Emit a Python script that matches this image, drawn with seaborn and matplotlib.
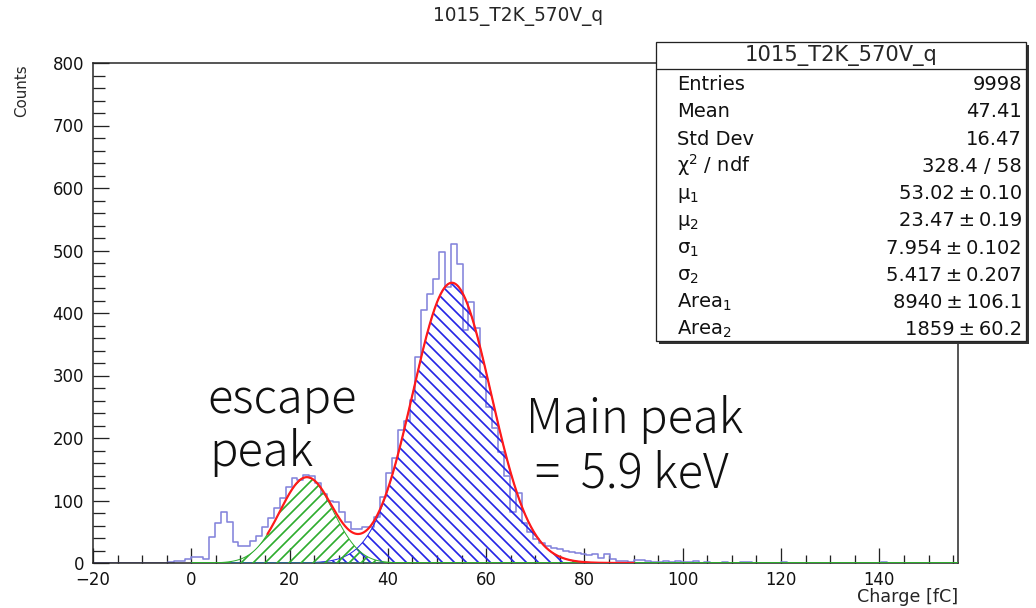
import numpy as np
import pandas as pd
import matplotlib
matplotlib.use("Agg")
import matplotlib.pyplot as plt
from matplotlib.patches import Rectangle
from matplotlib.lines import Line2D
from matplotlib.ticker import MultipleLocator
import seaborn as sns

# ---------------- data ----------------
hist_name = "1015_T2K_570V_q"
bin_start = -20.4
bin_width = 1.2
counts = [
    0, 0, 0, 0, 0, 0, 0, 0, 0, 0, 0, 0, 0,          # -20.4 .. -4.8
    2, 3, 3, 6, 10, 9, 7,                           # -4.8 .. 3.6
    42, 64, 82, 66, 34, 28, 27, 36, 44, 58,         # 3.6 .. 15.6
    72, 88, 104, 122, 136, 133, 141, 140, 128, 110, # 15.6 .. 27.6
    100, 97, 82, 66, 55, 54, 58, 57, 74, 106,       # 27.6 .. 39.6
    144, 168, 213, 228, 261, 330, 405, 430, 455, 497,  # 39.6 .. 51.6
    442, 510, 478, 373, 418, 376, 298, 250, 216, 178,  # 51.6 .. 63.6
    140, 82, 112, 64, 50, 38, 32, 28, 24, 22,       # 63.6 .. 75.6
    20, 18, 16, 14, 13, 15, 8, 14, 6, 3,            # 75.6 .. 87.6
    3, 2, 5, 5, 4, 2, 2, 3, 1, 3,                   # 87.6 .. 99.6
    2, 1, 3, 0, 1, 0, 0, 2, 0, 0,                   # 99.6 .. 111.6
    1, 2, 0, 0, 0, 0, 0, 2, 0, 0,                   # 111.6 .. 123.6
    0, 0, 0, 0, 0, 0, 0, 0, 0, 0,                   # 123.6 .. 135.6
    0, 0, 0, 0, 2, 0, 0, 0, 0, 0,                   # 135.6 .. 147.6
    0, 0, 0, 0, 0, 0, 0,                            # 147.6 .. 156.0
]

# statistics and double-gaussian fit results
entries = 9998
mean = 47.41
std_dev = 16.47
chi2 = 328.4
ndf = 58
mu = [53.02, 23.47]
mu_err = [0.10, 0.19]
sigma = [7.954, 5.417]
sigma_err = [0.102, 0.207]
area = [8940, 1859]
area_err = [106.1, 60.2]
fit_range = (15.5, 90.0)
component_range = (0.0, 156.0)

x_ticks = [-20, 0, 20, 40, 60, 80, 100, 120, 140]
y_ticks = [0, 100, 200, 300, 400, 500, 600, 700, 800]

# ---------------- figure ----------------
sns.set_style("ticks")
plt.rcParams["font.family"] = ["DejaVu Sans"]
plt.rcParams["hatch.linewidth"] = 1.7

DPI = 72
W, H = 1036, 608
fig = plt.figure(figsize=(W / DPI, H / DPI), dpi=DPI)
fig.patch.set_facecolor("white")


def fx(px):
    return px / W


def fy(py):
    return 1 - py / H


ax = fig.add_axes([fx(93), fy(563), fx(958) - fx(93), fy(63) - fy(563)])
ax.set_facecolor("white")

# histogram outline
edges = bin_start + bin_width * np.arange(len(counts) + 1)
centers = edges[:-1] + bin_width / 2
df = pd.DataFrame({"charge": centers, "counts": counts})
sns.histplot(data=df, x="charge", weights="counts", bins=[float(e) for e in edges],
             element="step", fill=False, color="#8484dc", linewidth=1.6,
             ax=ax, zorder=2)


def gauss(x, a, m, s):
    return a / (s * np.sqrt(2 * np.pi)) * np.exp(-0.5 * ((x - m) / s) ** 2)


# fit components, hatched
xc = np.linspace(component_range[0], component_range[1], 1500)
g_main = gauss(xc, area[0], mu[0], sigma[0])
g_esc = gauss(xc, area[1], mu[1], sigma[1])
with plt.rc_context({"hatch.color": "#2424e6"}):
    ax.fill_between(xc, 0, g_main, facecolor="none", edgecolor="#2424e6",
                    hatch="\\\\", linewidth=1.0, zorder=3)
with plt.rc_context({"hatch.color": "#2eac2e"}):
    ax.fill_between(xc, 0, g_esc, facecolor="none", edgecolor="#2eac2e",
                    hatch="//", linewidth=1.0, zorder=3)

# total fit
xf = np.linspace(fit_range[0], fit_range[1], 800)
total = gauss(xf, area[0], mu[0], sigma[0]) + gauss(xf, area[1], mu[1], sigma[1])
sns.lineplot(x=xf, y=total, color="#ff1a1a", linewidth=2.2, ax=ax, zorder=4)

# axes styling
ax.set_xlim(-20, 156)
ax.set_ylim(0, 800)
ax.set_xticks(x_ticks)
ax.set_yticks(y_ticks)
ax.xaxis.set_minor_locator(MultipleLocator(5))
ax.yaxis.set_minor_locator(MultipleLocator(20))
ax.tick_params(which="both", direction="in", top=False, right=False,
               width=1.3, color="#222222", labelcolor="#111111")
ax.tick_params(axis="x", which="major", length=15, pad=8, labelsize=16.5)
ax.tick_params(axis="x", which="minor", length=8)
ax.tick_params(axis="y", which="major", length=16, pad=9, labelsize=16.5)
ax.tick_params(axis="y", which="minor", length=12)
ax.set_xlabel("")
ax.set_ylabel("")
for s in ax.spines.values():
    s.set_linewidth(1.5)
    s.set_color("#222222")

# titles
fig.text(fx(518), fy(17), hist_name, ha="center", va="center", fontsize=18.5)
fig.text(fx(22), fy(64), "Counts", rotation=90, ha="center", va="top", fontsize=15)
fig.text(fx(958), fy(597), "Charge [fC]", ha="right", va="center", fontsize=17.5)

# annotations
jp = ["Noto Sans CJK JP", "DejaVu Sans"]
note_kw = dict(family=jp, fontsize=47, fontweight="light", color="#111111",
               va="baseline", ha="left", zorder=6)
ax.text(3.3, 240, "escape", **note_kw)
ax.text(3.6, 155, "peak", **note_kw)
ax.text(68.2, 208, "Main peak", **note_kw)
ax.text(70.0, 121, "=  5.9 keV", **note_kw)

# statistics box
bx0, bx1, by0, by1 = 656, 1026, 42, 341
shadow = Rectangle((fx(bx0 + 3), fy(by1 + 3)), fx(bx1) - fx(bx0), fy(by0) - fy(by1),
                   transform=fig.transFigure, facecolor="#333333", edgecolor="none",
                   zorder=10)
box = Rectangle((fx(bx0), fy(by1)), fx(bx1) - fx(bx0), fy(by0) - fy(by1),
                transform=fig.transFigure, facecolor="white", edgecolor="#222222",
                linewidth=1.3, zorder=11)
fig.add_artist(shadow)
fig.add_artist(box)
fig.add_artist(Line2D([fx(bx0), fx(bx1)], [fy(68.5), fy(68.5)], transform=fig.transFigure,
                      color="#222222", linewidth=1.3, zorder=12))
fig.text(fx(841), fy(55), hist_name, ha="center", va="center", fontsize=21, zorder=12)

pm = "\u2009±\u2009"
rows = [
    ("Entries", f"{entries}"),
    ("Mean", f"{mean:.2f}"),
    ("Std Dev", f"{std_dev:.2f}"),
    ("χ$^{2}$ / ndf", f"{chi2:.1f} / {ndf}"),
    ("μ$_{1}$", f"{mu[0]:.2f}{pm}{mu_err[0]:.2f}"),
    ("μ$_{2}$", f"{mu[1]:.2f}{pm}{mu_err[1]:.2f}"),
    ("σ$_{1}$", f"{sigma[0]:.3f}{pm}{sigma_err[0]:.3f}"),
    ("σ$_{2}$", f"{sigma[1]:.3f}{pm}{sigma_err[1]:.3f}"),
    ("Area$_{1}$", f"{area[0]}{pm}{area_err[0]:.1f}"),
    ("Area$_{2}$", f"{area[1]}{pm}{area_err[1]:.1f}"),
]
for i, (lab, val) in enumerate(rows):
    yb = 83.3 + 27.2 * i + 7.0
    fig.text(fx(677), fy(yb), lab, ha="left", va="baseline", fontsize=19.5,
             color="#111111", zorder=12)
    fig.text(fx(1022), fy(yb), val, ha="right", va="baseline", fontsize=19.5,
             color="#111111", zorder=12)

fig.savefig("out.png", dpi=DPI, facecolor="white")
